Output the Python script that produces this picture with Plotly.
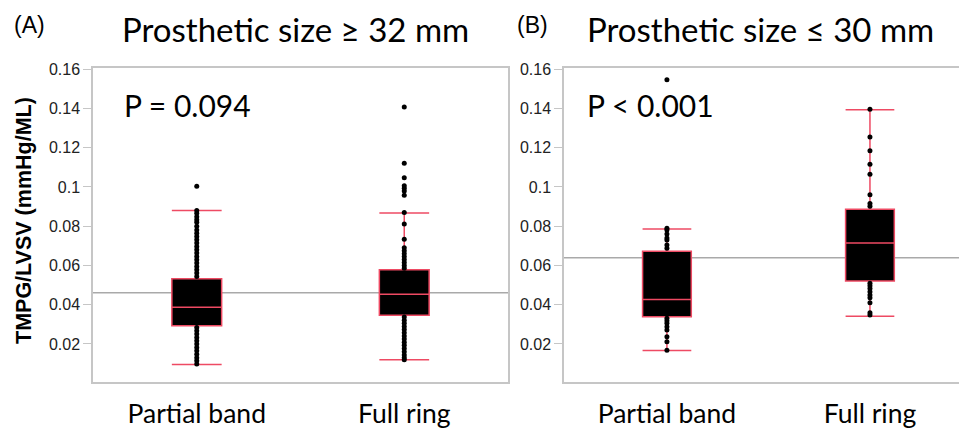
import plotly.graph_objects as go

# ---------------- data ----------------
categories = ["Partial band", "Full ring"]
y_ticks = [0.02, 0.04, 0.06, 0.08, 0.1, 0.12, 0.14, 0.16]
y_tick_text = ["0.02", "0.04", "0.06", "0.08", "0.1", "0.12", "0.14", "0.16"]

panel_titles = ["Prosthetic size \u2265 32 mm", "Prosthetic size \u2264 30 mm"]
panel_letters = ["(A)", "(B)"]
p_values = ["P = 0.094", "P < 0.001"]
grand_means = [0.0461, 0.0639]

# box summaries: [partial band, full ring]
A_q1 = [0.0293, 0.0346]
A_median = [0.0387, 0.0453]
A_q3 = [0.0532, 0.0578]
A_lower = [0.0095, 0.0120]
A_upper = [0.0880, 0.0867]

B_q1 = [0.0339, 0.0521]
B_median = [0.0427, 0.0714]
B_q3 = [0.0672, 0.0886]
B_lower = [0.0166, 0.0341]
B_upper = [0.0785, 0.1393]

# individual observations
A_partial = [0.1003, 0.0880, 0.0866, 0.0848, 0.0833, 0.0820, 0.0800, 0.0780, 0.0764,
             0.0748, 0.0731, 0.0714, 0.0697, 0.0680, 0.0663, 0.0646, 0.0629, 0.0612,
             0.0595, 0.0578, 0.0561, 0.0544, 0.0500, 0.0450, 0.0400, 0.0350, 0.0310,
             0.0284, 0.0267, 0.0250, 0.0233, 0.0216, 0.0199, 0.0182, 0.0165, 0.0148,
             0.0130, 0.0114, 0.0098]
A_full = [0.1407, 0.1121, 0.1047, 0.1006, 0.0993, 0.0979, 0.0958, 0.0870, 0.0811,
          0.0734, 0.0690, 0.0675, 0.0660, 0.0645, 0.0630, 0.0615, 0.0600, 0.0586,
          0.0520, 0.0460, 0.0400, 0.0337, 0.0321, 0.0305, 0.0289, 0.0273, 0.0257,
          0.0241, 0.0225, 0.0209, 0.0193, 0.0177, 0.0160, 0.0144, 0.0130, 0.0120]
B_partial = [0.1546, 0.0790, 0.0780, 0.0760, 0.0740, 0.0729, 0.0704, 0.0687, 0.0600,
             0.0500, 0.0400, 0.0331, 0.0318, 0.0305, 0.0288, 0.0271, 0.0237, 0.0211,
             0.0168]
B_full = [0.1396, 0.1255, 0.1184, 0.1116, 0.1065, 0.0960, 0.0916, 0.0902, 0.0800,
          0.0700, 0.0600, 0.0509, 0.0496, 0.0483, 0.0466, 0.0449, 0.0435, 0.0410,
          0.0359, 0.0347]

# ---------------- style ----------------
RED = "#ee4a63"
FRAME = "#c6c6c6"
MEAN_GRAY = "#a9a9a9"
OFF = 8                      # page body margin of the html page
FW, FH = 967 - OFF, 428 - OFF
BOX_W = 0.24
Y_RANGE = [0.0006, 0.1606]


def px_x(p):
    return (p - OFF) / FW


def px_y(p):
    return 1 - (p - OFF) / FH


fig = go.Figure()

panels = [
    dict(q1=A_q1, med=A_median, q3=A_q3, lo=A_lower, hi=A_upper,
         obs=[A_partial, A_full], xa="x", ya="y"),
    dict(q1=B_q1, med=B_median, q3=B_q3, lo=B_lower, hi=B_upper,
         obs=[B_partial, B_full], xa="x2", ya="y2"),
]

for pnl in panels:
    idx = list(range(len(categories)))
    fig.add_trace(go.Box(
        x=idx, q1=pnl["q1"], median=pnl["med"], q3=pnl["q3"],
        lowerfence=pnl["lo"], upperfence=pnl["hi"],
        width=BOX_W, fillcolor="black", line=dict(color=RED, width=1.5),
        whiskerwidth=0, boxpoints=False, showlegend=False, hoverinfo="skip",
        xaxis=pnl["xa"], yaxis=pnl["ya"],
    ))
    cx, cy = [], []
    for i in idx:
        for v in (pnl["lo"][i], pnl["hi"][i]):
            cx += [i - BOX_W / 2, i + BOX_W / 2, None]
            cy += [v, v, None]
    fig.add_trace(go.Scatter(
        x=cx, y=cy, mode="lines", line=dict(color=RED, width=1.5),
        showlegend=False, hoverinfo="skip", xaxis=pnl["xa"], yaxis=pnl["ya"],
    ))
    for i in idx:
        vals = [v for v in pnl["obs"][i] if v < pnl["q1"][i] or v > pnl["q3"][i]]
        fig.add_trace(go.Scatter(
            x=[i] * len(vals), y=vals, mode="markers",
            marker=dict(color="black", size=5),
            showlegend=False, hoverinfo="skip", xaxis=pnl["xa"], yaxis=pnl["ya"],
        ))

for k, xa in enumerate(["x", "x2"]):
    fig.add_shape(type="line", xref=f"{xa} domain", yref="y" if k == 0 else "y2",
                  x0=0, x1=1, y0=grand_means[k], y1=grand_means[k],
                  line=dict(color=MEAN_GRAY, width=1.5), layer="below")

tickfont = dict(family="Liberation Sans, Arial, sans-serif", size=16, color="#222222")
catfont = dict(family="Lato, sans-serif", size=26.5, color="black")

yaxis_common = dict(
    range=Y_RANGE, tickvals=y_ticks, ticktext=y_tick_text, tickfont=tickfont,
    ticks="outside", ticklen=8, tickcolor=FRAME, tickwidth=1.2, automargin=False,
    showgrid=False, zeroline=False, showline=True, linecolor=FRAME, linewidth=1.5,
)
xaxis_common = dict(
    range=[-0.5, 1.5], tickvals=[0, 1], ticktext=categories, tickfont=catfont,
    ticks="", showgrid=False, zeroline=False, showline=True, linecolor=FRAME,
    linewidth=1.5, mirror=True, ticklabelstandoff=7, automargin=False,
)

ydom = [px_y(382), px_y(68)]
fig.update_layout(
    width=FW, height=FH, margin=dict(l=0, r=0, t=0, b=0, autoexpand=False),
    paper_bgcolor="white", plot_bgcolor="white",
    xaxis=dict(domain=[px_x(93), px_x(508)], anchor="y", **xaxis_common),
    yaxis=dict(domain=ydom, anchor="x", mirror=True, **yaxis_common),
    xaxis2=dict(domain=[px_x(564), 1.0], anchor="y2",
                **{**xaxis_common, "range": [-0.507, 1.478]}),
    yaxis2=dict(domain=ydom, anchor="x2", mirror=False, **yaxis_common),
)

annos = []
for k, (lx, tx) in enumerate([(29, 295), (532, 760)]):
    annos.append(dict(text=panel_letters[k], x=px_x(lx), y=px_y(25), xref="paper", yref="paper",
                      showarrow=False, xanchor="center", yanchor="middle",
                      font=dict(family="Liberation Sans, Arial, sans-serif", size=23, color="black")))
    annos.append(dict(text=panel_titles[k], x=px_x(tx), y=px_y(28.5), xref="paper", yref="paper",
                      showarrow=False, xanchor="center", yanchor="middle",
                      font=dict(family="Lato, sans-serif", size=33, color="black")))
for k, px0 in enumerate([125, 588]):
    annos.append(dict(text=p_values[k], x=px_x(px0 - 3), y=px_y(105), xref="paper", yref="paper",
                      showarrow=False, xanchor="left", yanchor="middle",
                      font=dict(family="Lato, sans-serif", size=30, color="black")))
annos.append(dict(text="<b>TMPG/LVSV (mmHg/ML)</b>", x=px_x(24), y=px_y(221),
                  xref="paper", yref="paper", showarrow=False, textangle=-90,
                  xanchor="center", yanchor="middle",
                  font=dict(family="Liberation Sans, Arial, sans-serif", size=21.5, color="black")))
fig.update_layout(annotations=annos)

fig.write_html("out.html")
